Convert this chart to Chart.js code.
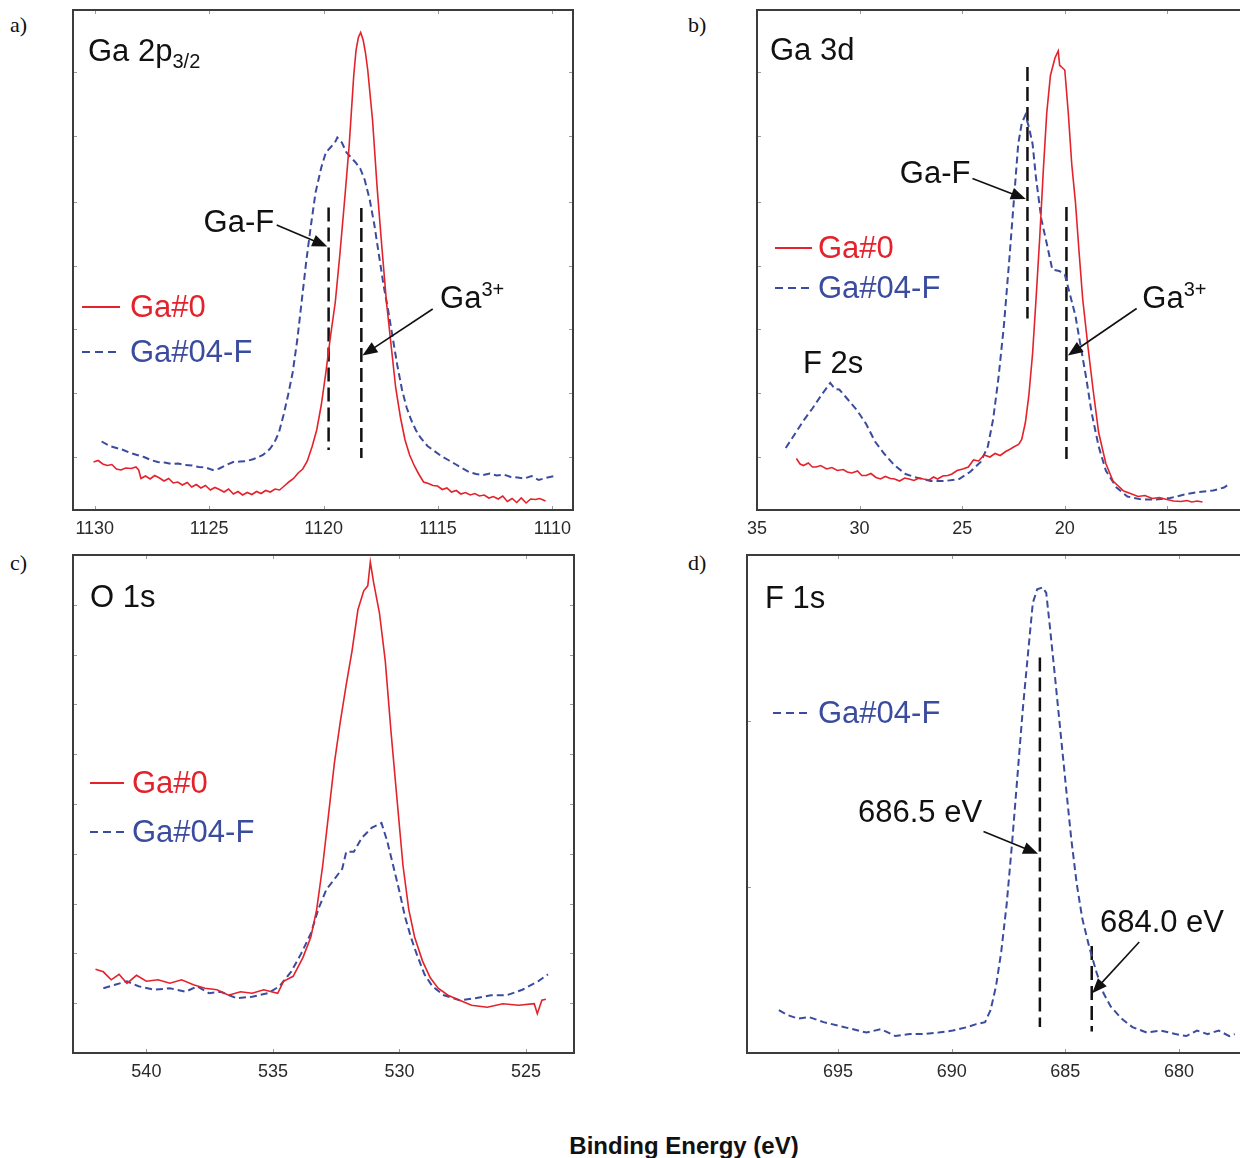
<!DOCTYPE html>
<html lang="en">
<head>
<meta charset="UTF-8">
<title>XPS spectra Ga#0 / Ga#04-F</title>
<script src="https://cdn.jsdelivr.net/npm/chart.js"></script>
<style>
    html, body {
        margin: 0;
        padding: 0;
        width: 1240px;
        height: 1158px;
        overflow: hidden;
        background: #fff;
    }
    canvas { position: absolute; }
    .tag {
        position: absolute;
        font-family: "Liberation Serif", "Times New Roman", serif;
        font-size: 22px;
        color: #111;
    }
    #xtitle {
        position: absolute;
        left: 434px;
        width: 500px;
        top: 1132px;
        text-align: center;
        font-family: "Liberation Sans", Arial, sans-serif;
        font-weight: bold;
        font-size: 24px;
        color: #111;
    }
</style>
</head>
<body>

<div class="tag" style="left:10px; top:12px;">a)</div>
<div class="tag" style="left:688px; top:12px;">b)</div>
<div class="tag" style="left:10px; top:550px;">c)</div>
<div class="tag" style="left:688px; top:550px;">d)</div>
<div id="xtitle">Binding Energy (eV)</div>

<canvas id="pa"></canvas>
<canvas id="pb"></canvas>
<canvas id="pc"></canvas>
<canvas id="pd"></canvas>

<script>
// ---------- a) Ga 2p3/2 ----------
const aTicks = [1130, 1125, 1120, 1115, 1110];
const aYTicks = [10.6, 23.4, 36.2, 48.9, 61.7, 74.8, 87.6];
const aEnergyGa0 = [1130.05, 1129.85, 1129.65, 1129.45, 1129.25, 1129.05, 1128.85, 1128.65, 1128.4, 1128.2,
    1128.08, 1127.98, 1127.78, 1127.58, 1127.38, 1127.17, 1126.97, 1126.77, 1126.57, 1126.37,
    1126.17, 1125.96, 1125.76, 1125.56, 1125.36, 1125.16, 1124.95, 1124.75, 1124.55, 1124.35,
    1124.15, 1123.94, 1123.74, 1123.54, 1123.34, 1123.13, 1122.93, 1122.73, 1122.53, 1122.33,
    1122.12, 1121.92, 1121.72, 1121.52, 1121.31, 1121.11, 1120.91, 1120.71, 1120.5, 1120.3,
    1120.1, 1119.9, 1119.69, 1119.49, 1119.29, 1119.08, 1118.88, 1118.78, 1118.68, 1118.58,
    1118.48, 1118.38, 1118.27, 1118.17, 1118.07, 1117.86, 1117.66, 1117.46, 1117.25, 1117.05,
    1116.85, 1116.64, 1116.44, 1116.24, 1116.03, 1115.83, 1115.63, 1115.42, 1115.22, 1115.02,
    1114.81, 1114.61, 1114.41, 1114.2, 1114.0, 1113.8, 1113.59, 1113.39, 1113.19, 1112.98,
    1112.78, 1112.58, 1112.37, 1112.17, 1111.97, 1111.76, 1111.56, 1111.36, 1111.15, 1110.95,
    1110.75, 1110.55, 1110.3];
const aGa0 = [9.6, 9.9, 9.2, 8.9, 9.1, 8.2, 8.0, 8.4, 8.3, 8.6,
    8.0, 6.3, 6.8, 6.2, 6.9, 6.4, 5.8, 6.3, 5.4, 5.6,
    5.0, 5.5, 4.6, 5.1, 4.4, 4.9, 4.0, 4.5, 4.1, 3.6,
    4.2, 3.2, 3.7, 3.0, 3.5, 3.1, 3.7, 3.3, 3.9, 3.6,
    4.2, 4.0, 4.8, 5.6, 6.3, 7.4, 8.2, 9.8, 12.7, 16.0,
    21.0, 27.5, 35.0, 41.5, 51.0, 62.0, 73.0, 80.0, 87.0, 92.0,
    94.5, 95.5, 94.0, 91.5, 88.0, 78.0, 64.5, 53.0, 41.5, 33.0,
    24.5, 18.5, 14.0, 11.0, 8.8, 7.1, 5.6, 5.3, 4.9, 4.8,
    4.1, 4.4, 3.6, 3.9, 3.2, 3.5, 3.0, 3.3, 2.8, 3.0,
    2.4, 2.7, 2.2, 2.8, 1.7, 2.3, 1.5, 2.4, 1.4, 2.2,
    2.1, 2.3, 1.8];
const aEnergyGa04F = [1129.7, 1129.35, 1129.05, 1128.75, 1128.45, 1128.15, 1127.85, 1127.55, 1127.25, 1126.95,
    1126.65, 1126.35, 1126.05, 1125.75, 1125.45, 1125.15, 1124.85, 1124.55, 1124.25, 1123.95,
    1123.65, 1123.35, 1123.05, 1122.65, 1122.35, 1122.15, 1121.95, 1121.75, 1121.55, 1121.35,
    1121.15, 1120.95, 1120.75, 1120.55, 1120.35, 1120.1, 1119.9, 1119.7, 1119.5, 1119.4,
    1119.2, 1119.0, 1118.8, 1118.6, 1118.4, 1118.2, 1117.98, 1117.78, 1117.58, 1117.38,
    1117.18, 1116.98, 1116.78, 1116.57, 1116.37, 1116.17, 1115.97, 1115.77, 1115.46, 1115.16,
    1114.86, 1114.55, 1114.25, 1113.95, 1113.64, 1113.34, 1113.04, 1112.73, 1112.43, 1112.13,
    1111.82, 1111.52, 1111.22, 1110.91, 1110.6, 1110.3, 1109.9];
const aGa04F = [13.7, 12.8, 12.4, 12.0, 11.4, 11.0, 10.6, 10.0, 9.6, 9.5,
    9.2, 9.3, 9.0, 8.9, 8.6, 8.5, 8.0, 8.3, 9.0, 9.6,
    9.7, 9.8, 10.2, 11.0, 12.2, 13.5, 15.5, 19.0, 23.0, 27.5,
    34.0, 42.0, 50.0, 57.0, 63.5, 68.5, 71.5, 72.5, 73.5, 74.5,
    73.5, 71.5, 70.5, 69.5, 68.3, 66.0, 62.0, 57.0, 51.0, 45.0,
    40.0, 34.5, 29.0, 24.0, 20.5, 18.0, 16.0, 14.5, 12.8, 11.8,
    10.8, 10.0, 9.2, 8.4, 7.6, 7.2, 7.0, 7.3, 6.9, 7.1,
    6.6, 6.5, 6.3, 6.8, 6.0, 6.4, 6.8];
const aMarkerEnergy = [1119.78, 1118.35];
const aMarkerTop = [60.5, 60.4];
const aMarkerBottom = [12.0, 10.4];

// ---------- b) Ga 3d ----------
const bTicks = [35, 30, 25, 20, 15];
const bYTicks = [10.6, 23.4, 36.2, 48.9, 61.7, 74.8, 87.6];
const bEnergyGa0 = [33.08, 32.9, 32.73, 32.5, 32.3, 32.12, 31.9, 31.6, 31.35, 31.08,
    30.8, 30.6, 30.38, 30.1, 29.9, 29.68, 29.45, 29.2, 28.98, 28.75,
    28.5, 28.29, 28.05, 27.8, 27.59, 27.35, 27.1, 26.89, 26.6, 26.4,
    26.2, 25.95, 25.7, 25.5, 25.25, 24.97, 24.7, 24.45, 24.2, 23.93,
    23.65, 23.4, 23.15, 22.88, 22.65, 22.45, 22.25, 22.1, 21.92, 21.75,
    21.57, 21.4, 21.22, 21.05, 20.88, 20.7, 20.48, 20.32, 20.25, 20.18,
    20.0, 19.83, 19.66, 19.48, 19.31, 19.13, 18.87, 18.61, 18.35, 18.0,
    17.65, 17.13, 16.8, 16.43, 16.1, 15.73, 15.4, 15.03, 14.7, 14.34,
    14.05, 13.81, 13.55, 13.29];
const bGa0 = [10.3, 9.2, 8.9, 9.4, 8.6, 8.6, 8.9, 8.2, 8.5, 7.9,
    8.1, 7.6, 7.4, 7.8, 6.9, 6.9, 7.3, 6.5, 6.2, 6.7,
    6.3, 6.2, 5.8, 6.4, 6.2, 5.9, 6.4, 6.2, 6.0, 6.6,
    6.2, 6.8, 6.9, 7.2, 7.9, 8.2, 8.6, 10.0, 9.8, 11.0,
    10.6, 11.3, 10.9, 11.7, 12.2, 12.7, 13.1, 14.1, 17.5, 23.0,
    31.3, 42.3, 54.6, 67.7, 79.4, 86.9, 90.4, 91.8, 88.9, 88.7,
    88.0, 79.4, 69.1, 61.5, 51.9, 42.3, 32.6, 23.7, 15.5, 9.3,
    5.8, 3.8, 3.3, 2.7, 2.9, 2.3, 2.5, 2.1, 1.8, 1.7,
    1.9, 1.6, 1.8, 1.6];
const bEnergyGa04F = [33.6, 33.17, 32.73, 32.3, 31.86, 31.43, 31.2, 30.99, 30.55, 30.12,
    29.68, 29.25, 28.81, 28.29, 27.76, 27.24, 26.54, 25.85, 25.15, 24.62,
    24.1, 23.75, 23.49, 23.23, 22.97, 22.71, 22.45, 22.27, 22.1, 21.92,
    21.75, 21.57, 21.4, 21.14, 20.88, 20.61, 20.27, 20.0, 19.74, 19.48,
    19.22, 18.96, 18.7, 18.35, 18.0, 17.48, 16.95, 16.26, 15.56, 14.86,
    14.17, 13.47, 12.77, 12.24, 11.98];
const bGa04F = [12.4, 15.1, 17.9, 20.3, 23.0, 25.4, 24.2, 24.1, 22.0, 19.9,
    17.2, 13.7, 11.3, 8.9, 7.2, 6.5, 5.8, 5.8, 6.2, 7.6,
    9.6, 12.7, 18.2, 26.5, 36.8, 49.8, 63.6, 73.2, 77.3, 79.0,
    76.6, 73.2, 66.3, 58.1, 53.3, 48.1, 47.8, 47.1, 43.0, 38.8,
    32.6, 26.5, 19.6, 12.7, 7.9, 4.5, 2.7, 2.1, 2.1, 2.4,
    3.1, 3.6, 3.9, 4.5, 5.2];
const bMarkerEnergy = [21.82, 19.92];
const bMarkerTop = [88.6, 60.6];
const bMarkerBottom = [38.3, 10.2];

// ---------- c) O 1s ----------
const cTicks = [540, 535, 530, 525];
const cYTicks = [10, 20, 30, 40, 50, 60, 70, 80, 90];
const cEnergyGa0 = [542.01, 541.7, 541.39, 541.08, 540.77, 540.39, 540.0, 539.54, 539.07, 538.61,
    538.14, 537.68, 537.21, 536.75, 536.28, 535.82, 535.36, 534.81, 534.58, 534.2,
    533.81, 533.5, 533.27, 533.03, 532.8, 532.57, 532.34, 532.1, 531.87, 531.64,
    531.41, 531.25, 531.15, 531.02, 530.79, 530.56, 530.33, 530.09, 529.86, 529.63,
    529.4, 529.09, 528.78, 528.47, 528.08, 527.62, 527.15, 526.53, 525.91, 525.29,
    524.67, 524.55, 524.37, 524.21];
const cGa0 = [16.8, 16.3, 14.7, 15.8, 14.0, 15.6, 14.4, 14.7, 14.0, 14.7,
    13.7, 13.0, 12.7, 11.6, 12.3, 12.0, 12.7, 12.0, 14.4, 15.4,
    19.2, 23.3, 28.8, 37.7, 47.9, 58.2, 66.4, 74.0, 80.8, 89.0,
    92.8, 93.8, 98.6, 94.5, 88.4, 78.8, 64.4, 50.7, 37.7, 28.8,
    23.3, 18.5, 15.1, 13.0, 11.6, 10.6, 9.6, 9.2, 9.9, 9.6,
    9.9, 7.9, 10.6, 10.8];
const cEnergyGa04F = [541.7, 541.24, 540.77, 540.31, 539.69, 539.07, 538.45, 537.99, 537.52, 537.06,
    536.44, 535.82, 535.2, 534.74, 534.27, 533.89, 533.5, 533.19, 532.88, 532.57,
    532.26, 532.1, 531.8, 531.49, 531.1, 530.71, 530.48, 530.25, 530.02, 529.78,
    529.55, 529.32, 529.01, 528.7, 528.24, 527.62, 527.0, 526.38, 525.76, 525.14,
    524.52, 524.13];
const cGa04F = [13.0, 13.7, 14.4, 13.4, 12.7, 13.0, 12.3, 13.4, 12.0, 12.3,
    11.0, 11.3, 12.0, 13.4, 16.4, 19.9, 24.0, 29.1, 32.9, 34.9,
    37.0, 40.4, 40.4, 43.2, 45.2, 46.2, 42.5, 37.7, 32.9, 27.4,
    23.3, 19.9, 15.8, 13.4, 11.6, 10.6, 11.0, 11.6, 11.6, 12.7,
    14.4, 15.8];

// ---------- d) F 1s ----------
const dTicks = [695, 690, 685, 680];
const dYTicks = [33.3, 66.7];
const dEnergyGa04F = [697.6, 697.21, 696.74, 696.26, 695.63, 695.0, 694.37, 693.74, 693.11, 692.47,
    691.84, 691.21, 690.58, 689.95, 689.32, 688.92, 688.53, 688.29, 688.05, 687.82,
    687.58, 687.34, 687.1, 686.87, 686.63, 686.43, 686.24, 686.0, 685.84, 685.68,
    685.45, 685.21, 684.97, 684.74, 684.5, 684.26, 683.95, 683.63, 683.32, 683.0,
    682.53, 682.05, 681.42, 680.79, 680.16, 679.68, 679.21, 678.74, 678.26, 677.79,
    677.55];
const dGa04F = [8.6, 7.6, 6.9, 7.2, 6.2, 5.5, 4.8, 4.1, 4.8, 3.4,
    3.8, 3.8, 4.1, 4.5, 5.2, 5.8, 6.2, 8.6, 13.4, 20.3,
    29.9, 42.3, 56.0, 69.1, 80.8, 90.4, 93.1, 93.5, 92.4, 85.6,
    75.3, 64.3, 53.3, 43.0, 34.0, 27.1, 21.3, 16.2, 12.0, 9.3,
    6.9, 5.2, 4.1, 4.5, 3.8, 3.4, 4.5, 3.8, 4.5, 3.4,
    3.8];
const dMarkerEnergy = [686.12, 683.84];
const dMarkerTop = [79.4, 21.5];
const dMarkerBottom = [5.2, 4.3];

const RED = '#e4222b';
const BLUE = '#3b4c9e';
const FONT = "'Liberation Sans', Arial, Helvetica, sans-serif";

Chart.defaults.font.family = FONT;

function pts(xs, ys) {
    return xs.map((x, i) => ({ x: x, y: ys[i] }));
}

function redLine(label, xs, ys) {
    return { label, data: pts(xs, ys), borderColor: RED, borderWidth: 1.6, pointRadius: 0, tension: 0 };
}

function blueLine(label, xs, ys) {
    return { label, data: pts(xs, ys), borderColor: BLUE, borderWidth: 2, borderDash: [7, 4], pointRadius: 0, tension: 0 };
}

function markers(xs, tops, bottoms) {
    return xs.map((x, i) => ({
        label: 'marker' + i,
        data: [{ x: x, y: tops[i] }, { x: x, y: bottoms[i] }],
        borderColor: '#111', borderWidth: 2.5, borderDash: [14, 6], borderCapStyle: 'butt',
        pointRadius: 0
    }));
}

// text made of segments: [text] or [text, 'sup' | 'sub']
function drawRich(ctx, segs, x, y, align, size) {
    const small = Math.round(size * 0.64);
    let total = 0;
    segs.forEach(s => {
        ctx.font = (s[1] ? small : size) + 'px ' + FONT;
        total += ctx.measureText(s[0]).width;
    });
    let cx = align === 'right' ? x - total : x;
    segs.forEach(s => {
        ctx.font = (s[1] ? small : size) + 'px ' + FONT;
        let dy = 0;
        if (s[1] === 'sup') dy = -size * 0.4;
        if (s[1] === 'sub') dy = size * 0.22;
        ctx.fillText(s[0], cx, y + dy);
        cx += ctx.measureText(s[0]).width;
    });
}

function drawArrow(ctx, x1, y1, x2, y2) {
    const ang = Math.atan2(y2 - y1, x2 - x1);
    const hl = 15, hw = 6;
    ctx.strokeStyle = '#111';
    ctx.lineWidth = 1.6;
    ctx.setLineDash([]);
    ctx.beginPath();
    ctx.moveTo(x1, y1);
    ctx.lineTo(x2 - Math.cos(ang) * hl * 0.8, y2 - Math.sin(ang) * hl * 0.8);
    ctx.stroke();
    ctx.fillStyle = '#111';
    ctx.beginPath();
    ctx.moveTo(x2, y2);
    ctx.lineTo(x2 - Math.cos(ang) * hl + Math.sin(ang) * hw, y2 - Math.sin(ang) * hl - Math.cos(ang) * hw);
    ctx.lineTo(x2 - Math.cos(ang) * hl - Math.sin(ang) * hw, y2 - Math.sin(ang) * hl + Math.cos(ang) * hw);
    ctx.closePath();
    ctx.fill();
}

function decor(deco, xTicks, yTicks) {
    return {
        id: 'decor',
        afterDraw(chart) {
            const ctx = chart.ctx;
            const a = chart.chartArea;
            const xs = chart.scales.x, ys = chart.scales.y;
            ctx.save();

            // small inward ticks on all four sides
            ctx.strokeStyle = '#9a9a9a';
            ctx.lineWidth = 1;
            ctx.setLineDash([]);
            ctx.beginPath();
            xTicks.forEach(v => {
                const px = Math.round(xs.getPixelForValue(v)) + 0.5;
                ctx.moveTo(px, a.top); ctx.lineTo(px, a.top + 4);
                ctx.moveTo(px, a.bottom); ctx.lineTo(px, a.bottom - 4);
            });
            yTicks.forEach(v => {
                const py = Math.round(ys.getPixelForValue(v)) + 0.5;
                ctx.moveTo(a.left, py); ctx.lineTo(a.left + 4, py);
                ctx.moveTo(a.right, py); ctx.lineTo(a.right - 4, py);
            });
            ctx.stroke();

            // frame
            ctx.strokeStyle = '#3c3c3c';
            ctx.lineWidth = 2;
            ctx.strokeRect(a.left, a.top, a.right - a.left, a.bottom - a.top);

            // panel title
            ctx.fillStyle = '#111';
            ctx.textBaseline = 'alphabetic';
            ctx.textAlign = 'left';
            drawRich(ctx, deco.title.segs, a.left + deco.title.x, a.top + deco.title.y, 'left', 31);

            // legend
            const lg = deco.legend;
            lg.rows.forEach(r => {
                const y = a.top + r[0];
                ctx.strokeStyle = r[2];
                ctx.lineWidth = r[3].length ? 2 : 1.8;
                ctx.setLineDash(r[3].length ? [8, 5] : []);
                ctx.beginPath();
                ctx.moveTo(a.left + lg.x, y);
                ctx.lineTo(a.left + lg.x + lg.len, y);
                ctx.stroke();
                ctx.setLineDash([]);
                ctx.fillStyle = r[2];
                ctx.font = '31px ' + FONT;
                ctx.textBaseline = 'middle';
                ctx.fillText(r[1], a.left + lg.tx, y + 1);
            });

            // annotations in data coordinates
            ctx.textBaseline = 'alphabetic';
            ctx.fillStyle = '#111';
            (deco.notes || []).forEach(n => {
                drawRich(ctx, n.segs, xs.getPixelForValue(n.x), ys.getPixelForValue(n.y), n.align, 31);
            });
            (deco.arrows || []).forEach(r => {
                drawArrow(ctx, xs.getPixelForValue(r[0]), ys.getPixelForValue(r[1]),
                    xs.getPixelForValue(r[2]), ys.getPixelForValue(r[3]));
            });
            ctx.restore();
        }
    };
}

function makePanel(id, box, xMin, xMax, xTicks, yTicks, datasets, deco) {
    const c = document.getElementById(id);
    const w = box.r - box.l + 80, h = box.b - box.t + 45;
    c.width = w; c.height = h;
    c.style.width = w + 'px'; c.style.height = h + 'px';
    c.style.left = (box.l - 40) + 'px';
    c.style.top = (box.t - 10) + 'px';
    new Chart(c, {
        type: 'line',
        data: { datasets: datasets },
        options: {
            responsive: false,
            animation: false,
            events: [],
            layout: { padding: { left: 40, right: 40, top: 10, bottom: 0 } },
            plugins: { legend: { display: false }, tooltip: { enabled: false } },
            scales: {
                x: {
                    type: 'linear',
                    reverse: true,
                    min: xMin,
                    max: xMax,
                    afterBuildTicks: s => { s.ticks = xTicks.map(v => ({ value: v })); },
                    afterFit: s => { s.height = 35; },
                    grid: { display: false, drawTicks: false },
                    border: { display: false },
                    ticks: {
                        autoSkip: false, maxRotation: 0, padding: 8, color: '#2a2a2a',
                        font: { size: 18 },
                        callback: v => String(v)
                    }
                },
                y: { display: false, min: 0, max: 100 }
            }
        },
        plugins: [decor(deco, xTicks, yTicks)]
    });
}

makePanel('pa', { l: 73, t: 10, r: 573, b: 510 }, 1109.1, 1130.95, aTicks, aYTicks,
    [redLine('Ga#0', aEnergyGa0, aGa0), blueLine('Ga#04-F', aEnergyGa04F, aGa04F)]
        .concat(markers(aMarkerEnergy, aMarkerTop, aMarkerBottom)),
    {
        title: { x: 15, y: 51, segs: [['Ga 2p'], ['3/2', 'sub']] },
        legend: { x: 9, len: 38, tx: 57, rows: [[297, 'Ga#0', RED, []], [342, 'Ga#04-F', BLUE, [6, 4]]] },
        notes: [
            { x: 1122.16, y: 55.6, align: 'right', segs: [['Ga-F']] },
            { x: 1114.91, y: 40.4, align: 'left', segs: [['Ga'], ['3+', 'sup']] }
        ],
        arrows: [[1122.05, 57.0, 1119.84, 52.7], [1115.23, 40.2, 1118.3, 30.9]]
    });

makePanel('pb', { l: 757, t: 10, r: 1270, b: 510 }, 10, 35, bTicks, bYTicks,
    [redLine('Ga#0', bEnergyGa0, bGa0), blueLine('Ga#04-F', bEnergyGa04F, bGa04F)]
        .concat(markers(bMarkerEnergy, bMarkerTop, bMarkerBottom)),
    {
        title: { x: 13, y: 50, segs: [['Ga 3d']] },
        legend: { x: 18, len: 37, tx: 61, rows: [[238, 'Ga#0', RED, []], [278, 'Ga#04-F', BLUE, [6, 4]]] },
        notes: [
            { x: 24.6, y: 65.4, align: 'right', segs: [['Ga-F']] },
            { x: 16.22, y: 40.4, align: 'left', segs: [['Ga'], ['3+', 'sup']] },
            { x: 32.76, y: 27.4, align: 'left', segs: [['F 2s']] }
        ],
        arrows: [[24.5, 66.3, 21.9, 62.2], [16.5, 40.3, 19.85, 30.9]]
    });

makePanel('pc', { l: 73, t: 555, r: 574, b: 1053 }, 523.1, 542.9, cTicks, cYTicks,
    [redLine('Ga#0', cEnergyGa0, cGa0), blueLine('Ga#04-F', cEnergyGa04F, cGa04F)],
    {
        title: { x: 17, y: 52, segs: [['O 1s']] },
        legend: { x: 17, len: 34, tx: 59, rows: [[228, 'Ga#0', RED, []], [277, 'Ga#04-F', BLUE, [6, 4]]] }
    });

makePanel('pd', { l: 747, t: 555, r: 1270, b: 1053 }, 676, 699, dTicks, dYTicks,
    [blueLine('Ga#04-F', dEnergyGa04F, dGa04F)]
        .concat(markers(dMarkerEnergy, dMarkerTop, dMarkerBottom)),
    {
        title: { x: 18, y: 53, segs: [['F 1s']] },
        legend: { x: 26, len: 35, tx: 71, rows: [[158, 'Ga#04-F', BLUE, [6, 4]]] },
        notes: [
            { x: 694.12, y: 46.4, align: 'left', segs: [['686.5 eV']] },
            { x: 683.48, y: 24.3, align: 'left', segs: [['684.0 eV']] }
        ],
        arrows: [[688.6, 44.5, 686.2, 40.0], [681.75, 22.3, 683.82, 12.0]]
    });
</script>
</body>
</html>
